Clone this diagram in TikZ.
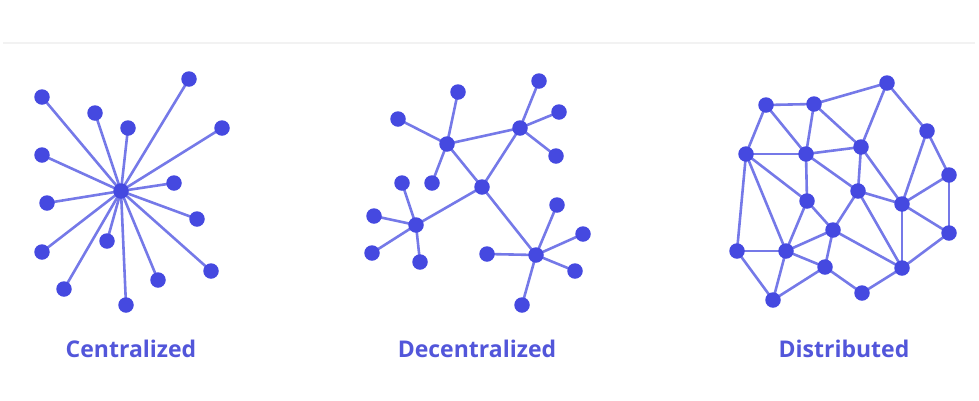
\documentclass[tikz,border=0pt]{standalone}
\usepackage{fontspec}
\setmainfont{Open Sans}
\pgfdeclarelayer{bg}
\pgfsetlayers{bg,main}
\definecolor{nodeblue}{HTML}{4549E0}
\definecolor{edgeblue}{HTML}{7579E8}
\definecolor{textblue}{HTML}{5256DA}
\definecolor{rulegray}{HTML}{F2F2F2}
\tikzset{
  dot/.style={circle, fill=nodeblue, draw=none, inner sep=0pt, minimum size=15.5pt},
  link/.style={draw=edgeblue, line width=2.6pt},
  caption/.style={text=textblue, font=\fontsize{23}{26}\selectfont\bfseries, anchor=base},
}
\begin{document}
\begin{tikzpicture}[x=1pt,y=-1pt]
\useasboundingbox (0,0) rectangle (979,400);
\coordinate (ruleL) at (3,43);
\coordinate (ruleR) at (975,43);
\draw[rulegray, line width=1.2pt] (ruleL) -- (ruleR);

% ---------- Centralized ----------
\node[dot] (c0) at (121,191) {};
\foreach \n/\x/\y in {1/42/97, 2/95/113, 3/128/128, 4/189/79, 5/222/128, 6/42/155,
  7/174/183, 8/47/203, 9/197/219, 10/107/241, 11/42/252, 12/211/271,
  13/158/280, 14/64/289, 15/126/305} {
  \node[dot] (c\n) at (\x,\y) {};
}
\begin{pgfonlayer}{bg}
\foreach \n in {1,...,15} { \draw[link] (c0.center) -- (c\n.center); }
\end{pgfonlayer}

% ---------- Decentralized ----------
\node[dot] (dA) at (447,144) {};
\node[dot] (dB) at (520,128) {};
\node[dot] (dC) at (482,187) {};
\node[dot] (dD) at (416,225) {};
\node[dot] (dE) at (536,255) {};
\node[dot] (dA1) at (398,119) {};
\node[dot] (dA2) at (458,92) {};
\node[dot] (dA3) at (432,183) {};
\node[dot] (dB1) at (539,81) {};
\node[dot] (dB2) at (559,112) {};
\node[dot] (dB3) at (556,156) {};
\node[dot] (dD1) at (402,183) {};
\node[dot] (dD2) at (374,216) {};
\node[dot] (dD3) at (372,253) {};
\node[dot] (dD4) at (420,262) {};
\node[dot] (dE1) at (557,205) {};
\node[dot] (dE2) at (583,234) {};
\node[dot] (dE3) at (575,271) {};
\node[dot] (dE4) at (487,254) {};
\node[dot] (dE5) at (522,305) {};
\begin{pgfonlayer}{bg}
\foreach \a/\b in {dA/dB, dA/dC, dB/dC, dC/dD, dC/dE,
  dA/dA1, dA/dA2, dA/dA3, dB/dB1, dB/dB2, dB/dB3,
  dD/dD1, dD/dD2, dD/dD3, dD/dD4,
  dE/dE1, dE/dE2, dE/dE3, dE/dE4, dE/dE5} {
  \draw[link] (\a.center) -- (\b.center);
}
\end{pgfonlayer}

% ---------- Distributed ----------
\foreach \n/\x/\y in {1/766/105, 2/814/104, 3/887/83, 4/927/131, 5/746/154,
  6/806/154, 7/861/147, 8/949/175, 9/858/191, 10/807/201, 11/902/204,
  12/833/230, 13/949/233, 14/737/251, 15/786/251, 16/825/267, 17/902/268,
  18/862/293, 19/773/300} {
  \node[dot] (s\n) at (\x,\y) {};
}
\begin{pgfonlayer}{bg}
\foreach \a/\b in {1/2, 1/5, 1/6, 2/3, 2/6, 2/7, 3/7, 3/4, 4/11, 4/8,
  5/6, 5/10, 5/15, 5/14, 6/7, 6/10, 6/9, 7/9, 7/11, 8/11, 8/13,
  9/11, 9/12, 9/17, 10/15, 10/12, 11/13, 11/17, 12/15, 12/16, 12/17,
  13/17, 14/15, 14/19, 15/16, 15/19, 16/19, 16/18, 18/17} {
  \draw[link] (s\a.center) -- (s\b.center);
}
\end{pgfonlayer}

% ---------- Captions ----------
\node[caption] (t1) at (131,357) {Centralized};
\node[caption] (t2) at (477,357) {Decentralized};
\node[caption] (t3) at (844,357) {Distributed};
\end{tikzpicture}
\end{document}
